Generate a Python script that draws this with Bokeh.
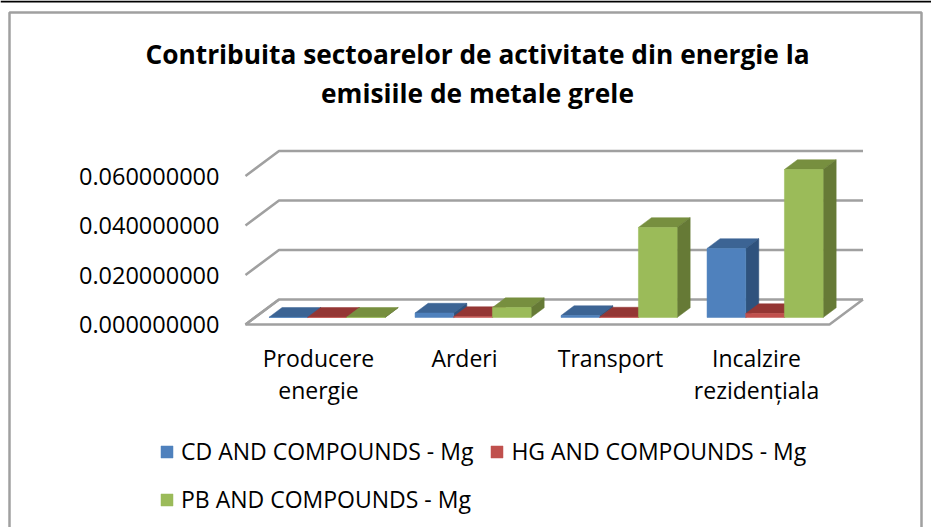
from bokeh.plotting import figure
from bokeh.models import (FixedTicker, NumeralTickFormatter, Label,
                          BoxAnnotation, Legend, LegendItem)
from bokeh.embed import file_html
from bokeh.resources import INLINE

TITLE = "Contribuita sectoarelor de activitate din energie la\nemisiile de metale grele"
categories = ["Producere\nenergie", "Arderi", "Transport", "Incalzire\nrezidențiala"]
series_names = ["CD AND COMPOUNDS - Mg", "HG AND COMPOUNDS - Mg", "PB AND COMPOUNDS - Mg"]
cd = [0.0001, 0.0018, 0.0008, 0.0279]
hg = [0.0001, 0.0004, 0.0002, 0.0016]
pb = [0.0001, 0.0040, 0.0364, 0.0598]
y_ticks = [0.0, 0.02, 0.04, 0.06]
front_colors = ["#4f81bd", "#c0504d", "#9bbb59"]
top_colors = ["#3c6494", "#943634", "#778f3f"]
side_colors = ["#2f527d", "#7f2f2d", "#667a36"]
GRID = "#a0a0a0"
FONT = "Open Sans"

W, H = 931, 527
PX_X0, PX_UNIT = 245.0, 146.0
PX_Y0, PX_PER = 324.0, 49.5 / 0.02

DX = 33.5 / PX_UNIT
DY = 25.0 / PX_PER

p = figure(width=W, height=H, output_backend="svg", toolbar_location=None,
           x_range=((0 - PX_X0) / PX_UNIT, (W - PX_X0) / PX_UNIT),
           y_range=((PX_Y0 - H) / PX_PER, (PX_Y0 - 0) / PX_PER),
           min_border_left=0, min_border_right=0, min_border_top=0, min_border_bottom=0,
           outline_line_color=None, background_fill_color="white", border_fill_color="white")
p.grid.visible = False

n = len(categories)
for t in y_ticks:
    p.line([0, DX, n + DX], [t, t + DY, t + DY], line_color=GRID, line_width=2.5)
p.line([DX, 0, n, n + DX], [DY, 0, 0, DY], line_color=GRID, line_width=2.5)

GAP, BW = 0.097, 0.265
D0, D1 = 0.28, 0.67
legend_items = []
for s, vals in enumerate([cd, hg, pb]):
    fx, fy, tx, ty, sx, sy = [], [], [], [], [], []
    for i, v in enumerate(vals):
        x0 = i + GAP + s * BW + D0 * DX
        x1 = x0 + BW
        b = D0 * DY
        ddx, ddy = (D1 - D0) * DX, (D1 - D0) * DY
        fx.append([x0, x1, x1, x0]); fy.append([b, b, b + v, b + v])
        tx.append([x0, x1, x1 + ddx, x0 + ddx]); ty.append([b + v, b + v, b + v + ddy, b + v + ddy])
        sx.append([x1, x1 + ddx, x1 + ddx, x1]); sy.append([b, b + ddy, b + v + ddy, b + v])
    p.patches(tx, ty, fill_color=top_colors[s], line_color=top_colors[s], line_width=0.5)
    p.patches(sx, sy, fill_color=side_colors[s], line_color=side_colors[s], line_width=0.5)
    r = p.patches(fx, fy, fill_color=front_colors[s], line_color=front_colors[s], line_width=0.5)
    legend_items.append(LegendItem(label=series_names[s], renderers=[r]))

ya = p.yaxis[0]
ya.ticker = FixedTicker(ticks=y_ticks)
ya.formatter = NumeralTickFormatter(format="0.000000000")
ya.axis_line_color = None
ya.major_tick_line_color = None
ya.minor_tick_line_color = None
ya.major_label_standoff = -225
ya.major_label_text_font = FONT
ya.major_label_text_font_size = "23.5px"
ya.major_label_text_color = "#000000"

xa = p.xaxis[0]
xa.ticker = FixedTicker(ticks=[i + 0.5 for i in range(n)])
xa.major_label_overrides = {i + 0.5: c for i, c in enumerate(categories)}
xa.axis_line_color = None
xa.major_tick_line_color = None
xa.minor_tick_line_color = None
xa.major_label_standoff = -192
xa.major_label_text_font = FONT
xa.major_label_text_font_size = "23px"
xa.major_label_text_color = "#000000"
xa.major_label_text_line_height = 1.0

p.add_layout(Label(x=477, y=73, x_units="canvas", y_units="canvas", text=TITLE,
                   text_align="center", text_baseline="middle", text_font=FONT,
                   text_font_style="bold", text_font_size="26.3px", text_color="#000000",
                   text_line_height=1.07))

legend = Legend(items=[legend_items[0], legend_items[2], legend_items[1]], ncols=2, location=(159, 12),
                label_text_font=FONT, label_text_font_size="23px", label_text_color="#000000",
                glyph_width=15, glyph_height=15, border_line_color=None,
                background_fill_alpha=0, spacing=16, padding=0, margin=8, label_standoff=7)
p.add_layout(legend, "center")

p.add_layout(BoxAnnotation(left=9, right=921, top=12, bottom=540,
                           left_units="canvas", right_units="canvas",
                           top_units="canvas", bottom_units="canvas",
                           fill_alpha=0, line_color=GRID, line_alpha=1, line_width=2.5))
p.add_layout(BoxAnnotation(left=0, right=W, top=0, bottom=2,
                           left_units="canvas", right_units="canvas",
                           top_units="canvas", bottom_units="canvas",
                           fill_color="#000000", fill_alpha=1, line_color=None))

open("out.html", "w").write(file_html(p, INLINE))
